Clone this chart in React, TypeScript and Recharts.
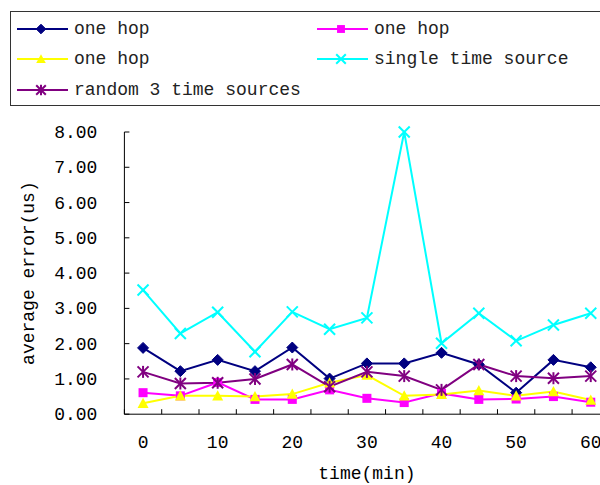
import React from "react";
import { LineChart, Line, XAxis, YAxis, Legend } from "recharts";

// sampling times (min)
const times = [0, 5, 10, 15, 20, 25, 30, 35, 40, 45, 50, 55, 60];

// average error (us) per series
const oneHopNavy = [1.88, 1.22, 1.54, 1.22, 1.89, 1.01, 1.44, 1.44, 1.74, 1.41, 0.61, 1.54, 1.33];
const oneHopMagenta = [0.61, 0.52, 0.9, 0.42, 0.42, 0.69, 0.45, 0.33, 0.59, 0.42, 0.43, 0.5, 0.34];
const oneHopYellow = [0.31, 0.52, 0.52, 0.5, 0.57, 0.89, 1.11, 0.52, 0.56, 0.67, 0.52, 0.64, 0.4];
const singleSource = [3.52, 2.29, 2.89, 1.77, 2.9, 2.41, 2.73, 8.0, 2.01, 2.86, 2.08, 2.53, 2.86];
const random3Sources = [1.2, 0.87, 0.89, 1.0, 1.41, 0.78, 1.2, 1.08, 0.69, 1.41, 1.08, 1.02, 1.08];

const yTicks = [0, 1, 2, 3, 4, 5, 6, 7, 8];
const xTickLabels = [0, 10, 20, 30, 40, 50, 60];

type MarkerType = "diamond" | "square" | "triangle" | "cross" | "star";

const series: { key: string; name: string; color: string; marker: MarkerType; values: number[] }[] = [
  { key: "hopNavy", name: "one hop", color: "#000080", marker: "diamond", values: oneHopNavy },
  { key: "hopMagenta", name: "one hop", color: "#ff00ff", marker: "square", values: oneHopMagenta },
  { key: "hopYellow", name: "one hop", color: "#ffff00", marker: "triangle", values: oneHopYellow },
  { key: "single", name: "single time source", color: "#00ffff", marker: "cross", values: singleSource },
  { key: "random3", name: "random 3 time sources", color: "#800080", marker: "star", values: random3Sources },
];

const data = times.map((t, i) => {
  const row: Record<string, number> = { time: t };
  series.forEach((s) => {
    row[s.key] = s.values[i];
  });
  return row;
});

// category boundaries, where the x tick marks sit
const xBoundaries = [...times.map((t) => t - 2.5), 62.5];

const FONT = "'Liberation Mono', monospace";

function Marker({ type, cx, cy, color, r }: { type: MarkerType; cx: number; cy: number; color: string; r: number }) {
  switch (type) {
    case "diamond":
      return (
        <polygon
          points={`${cx},${cy - r} ${cx + r},${cy} ${cx},${cy + r} ${cx - r},${cy}`}
          fill={color}
          stroke={color}
        />
      );
    case "square":
      return <rect x={cx - r * 0.82} y={cy - r * 0.82} width={r * 1.64} height={r * 1.64} fill={color} />;
    case "triangle":
      return (
        <polygon
          points={`${cx},${cy - r} ${cx + r},${cy + r * 0.85} ${cx - r},${cy + r * 0.85}`}
          fill={color}
        />
      );
    case "cross":
      return (
        <g stroke={color} strokeWidth={2}>
          <line x1={cx - r} y1={cy - r} x2={cx + r} y2={cy + r} />
          <line x1={cx - r} y1={cy + r} x2={cx + r} y2={cy - r} />
        </g>
      );
    case "star":
      return (
        <g stroke={color} strokeWidth={2}>
          <line x1={cx - r} y1={cy - r} x2={cx + r} y2={cy + r} />
          <line x1={cx - r} y1={cy + r} x2={cx + r} y2={cy - r} />
          <line x1={cx} y1={cy - r - 0.5} x2={cx} y2={cy + r + 0.5} />
        </g>
      );
  }
  return null;
}

function LegendBox() {
  return (
    <div
      style={{
        position: "relative",
        width: 596,
        height: 95,
        boxSizing: "border-box",
        border: "1px solid #333",
        background: "#fff",
      }}
    >
      {series.map((s, i) => {
        const col = i % 2;
        const row = Math.floor(i / 2);
        return (
          <div
            key={s.key}
            style={{
              position: "absolute",
              left: col === 0 ? 6 : 306,
              top: 17 + row * 30.8 - 15,
              height: 30,
              display: "flex",
              alignItems: "center",
              fontFamily: FONT,
              fontSize: 18,
              color: "#222",
              whiteSpace: "nowrap",
            }}
          >
            <svg width={51} height={20} style={{ display: "block" }}>
              <line x1={0} y1={10} x2={51} y2={10} stroke={s.color} strokeWidth={2} />
              <Marker type={s.marker} cx={24} cy={10} color={s.color} r={4.8} />
            </svg>
            <span style={{ marginLeft: 6 }}>{s.name}</span>
          </div>
        );
      })}
    </div>
  );
}

function YTick(props: any) {
  const { x, y, payload } = props;
  return (
    <g>
      <line x1={x} y1={y} x2={x + 5} y2={y} stroke="#000" />
      <text x={x - 27} y={y + 1} textAnchor="end" dominantBaseline="central" fontFamily={FONT} fontSize={18} fill="#000">
        {Number(payload.value).toFixed(2)}
      </text>
    </g>
  );
}

function XTick(props: any) {
  const { x, y, payload } = props;
  const v = payload.value as number;
  const isLabel = xTickLabels.includes(v);
  return (
    <g>
      {!isLabel && <line x1={x} y1={y} x2={x} y2={y - 5} stroke="#000" />}
      {isLabel && (
        <text x={x} y={y + 29} textAnchor="middle" dominantBaseline="central" fontFamily={FONT} fontSize={18} fill="#000">
          {v}
        </text>
      )}
    </g>
  );
}

export default function App() {
  return (
    <div style={{ position: "absolute", left: 0, top: 0, width: 600, height: 485, overflow: "hidden", background: "#fff" }}>
      <LineChart width={620} height={485} data={data} margin={{ top: 37, right: 10.6, left: 0, bottom: 0 }}>
        <Legend
          verticalAlign="top"
          align="left"
          content={() => <LegendBox />}
          wrapperStyle={{ top: 10.5, left: 10, width: 596 }}
        />
        <XAxis
          dataKey="time"
          type="number"
          domain={[-2.5, 62.5]}
          ticks={[...xBoundaries, ...xTickLabels].sort((a, b) => a - b)}
          interval={0}
          tickSize={0}
          tickMargin={0}
          tickLine={false}
          tick={(p: any) => <XTick {...p} />}
          axisLine={{ stroke: "#000" }}
          height={70.8}
          label={{ value: "time(min)", position: "insideBottom", offset: 6, fontFamily: FONT, fontSize: 18, fill: "#000" }}
        />
        <YAxis
          type="number"
          domain={[0, 8]}
          ticks={yTicks}
          interval={0}
          width={124.4}
          tickSize={0}
          tickMargin={0}
          tickLine={false}
          tick={(p: any) => <YTick {...p} />}
          axisLine={{ stroke: "#000" }}
          label={{
            value: "average error(us)",
            angle: -90,
            position: "insideLeft",
            offset: 28,
            style: { textAnchor: "middle" },
            fontFamily: FONT,
            fontSize: 18,
            fill: "#000",
          }}
        />
        {series.map((s) => (
          <Line
            key={s.key}
            dataKey={s.key}
            name={s.name}
            stroke={s.color}
            strokeWidth={2}
            isAnimationActive={false}
            dot={(p: any) => (
              <Marker key={`${s.key}-${p.index}`} type={s.marker} cx={p.cx} cy={p.cy} color={s.color} r={5.5} />
            )}
            activeDot={false}
          />
        ))}
      </LineChart>
    </div>
  );
}
